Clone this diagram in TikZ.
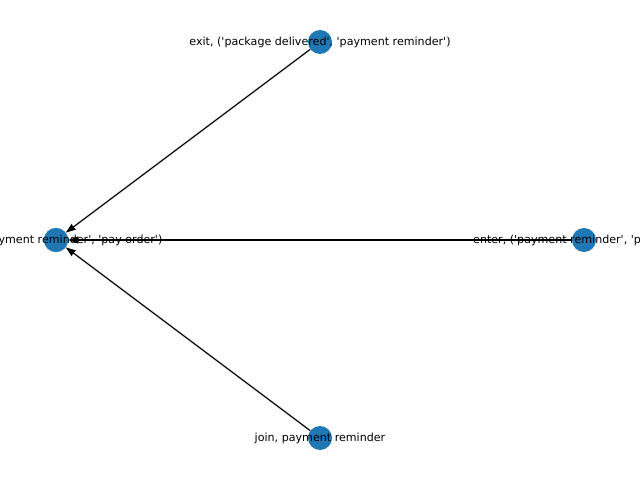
\documentclass[tikz,border=0pt]{standalone}
\usepackage{fontspec}
\newfontfamily\lblfont{DejaVu Sans}
\usetikzlibrary{arrows.meta}
\begin{document}
\begin{tikzpicture}[x=1pt,y=1pt,
  vertex/.style={circle,fill={rgb,255:red,31;green,119;blue,180},minimum size=24pt,inner sep=0pt},
  lbl/.style={font=\lblfont\fontsize{11.1}{13}\selectfont,text=black,inner sep=0pt},
  edge/.style={draw=black,line width=1.2pt,-{Stealth[length=10pt,width=7pt,inset=0.5pt]}}]
\useasboundingbox (0,0) rectangle (640,480);
\clip (0,0) rectangle (640,480);
\node[vertex] (L) at (56,240) {};
\node[vertex] (T) at (320,438) {};
\node[vertex] (R) at (584,240) {};
\node[vertex] (B) at (320,42) {};
\draw[edge] (T) -- (L);
\draw[edge] (R) -- (L);
\draw[edge] (B) -- (L);
\node[vertex] at (L.center) {};
\node[lbl] (lL) at (L.center) {exit, ('payment reminder', 'pay order')};
\node[lbl] (lT) at (T.center) {exit, ('package delivered', 'payment reminder')};
\node[lbl] (lR) at (R.center) {enter, ('payment reminder', 'pay order')};
\node[lbl] (lB) at (B.center) {join, payment reminder};
\end{tikzpicture}
\end{document}
